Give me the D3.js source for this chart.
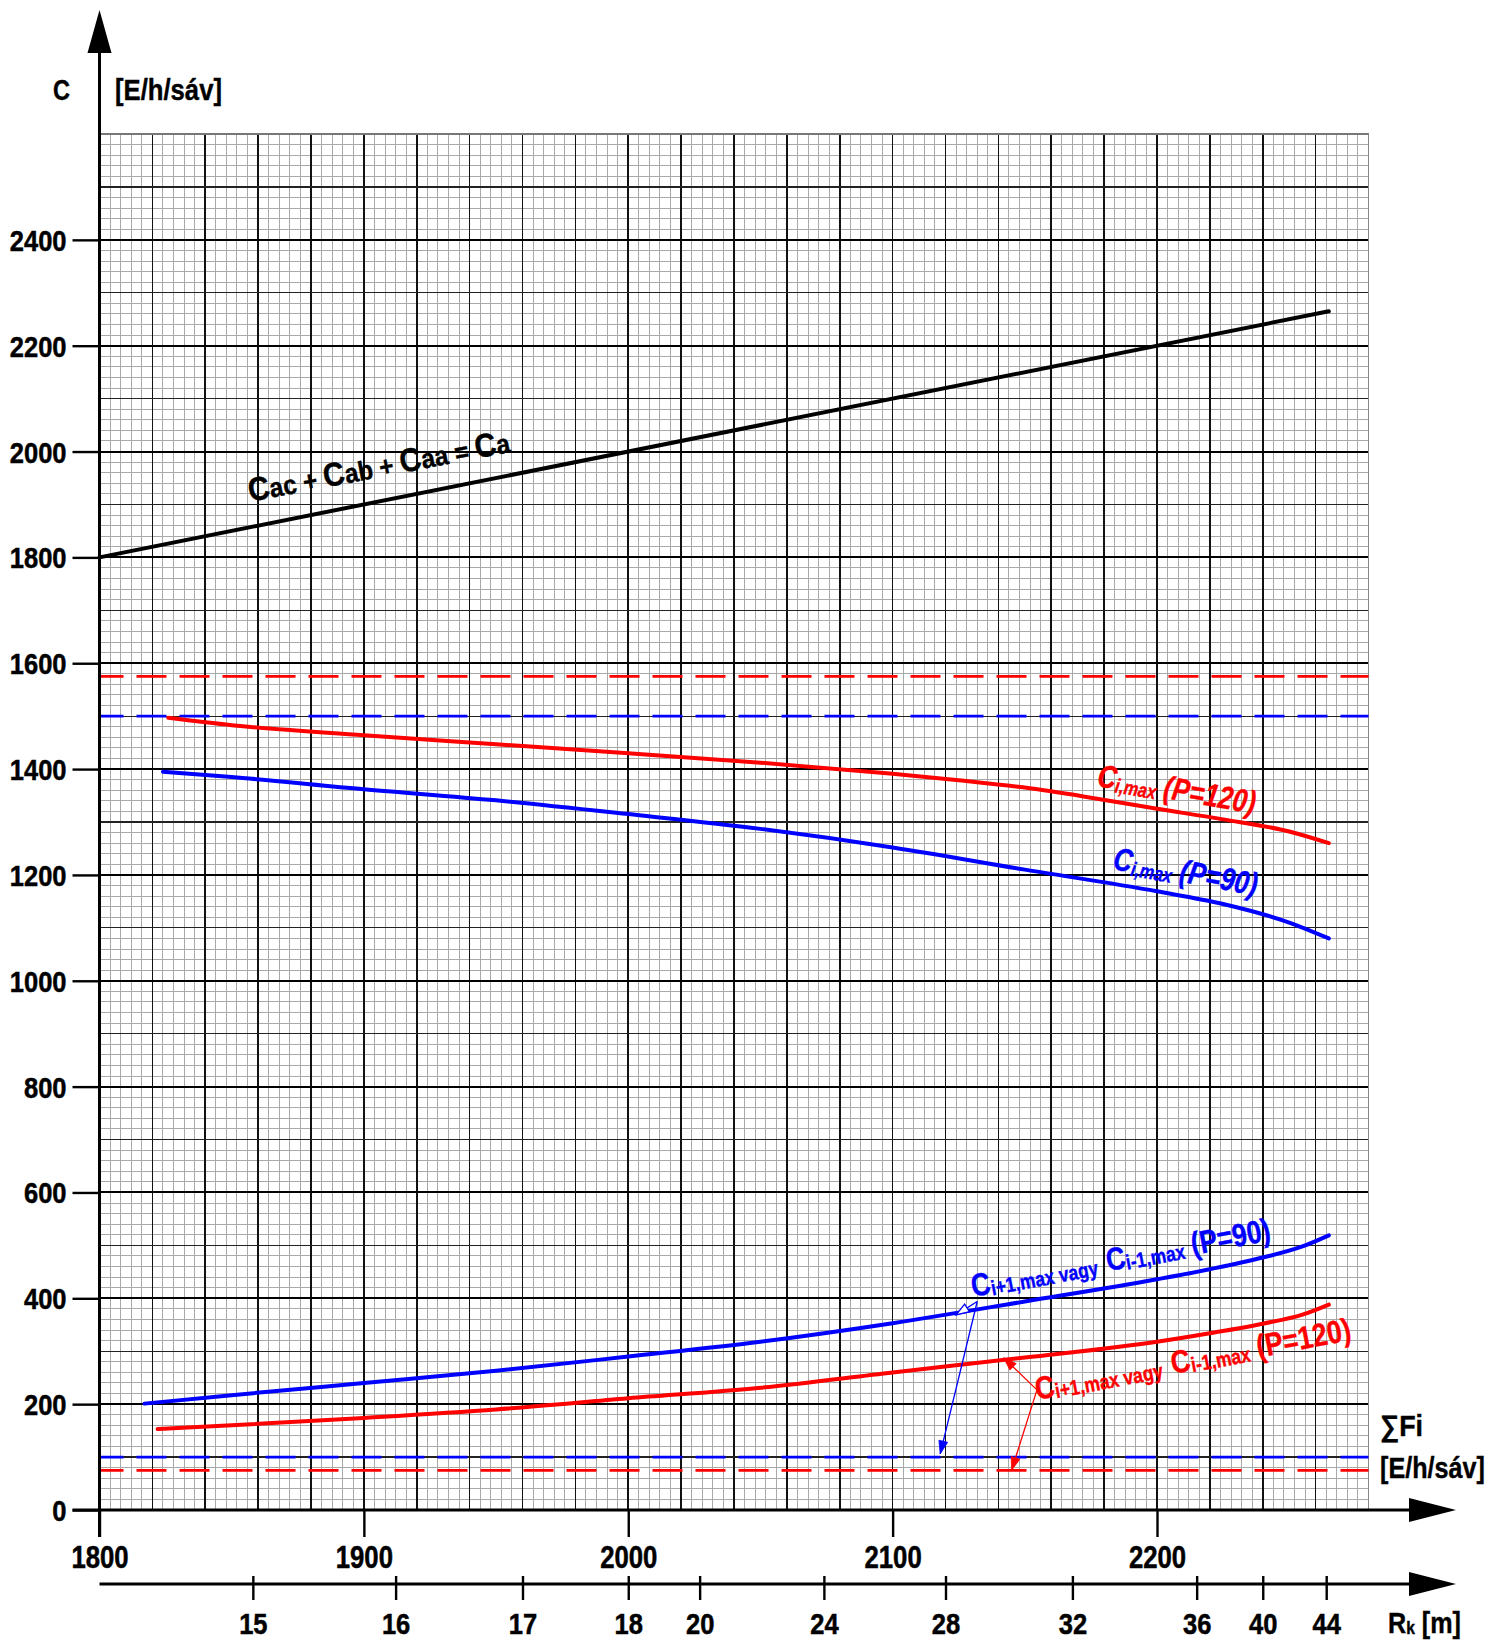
<!DOCTYPE html>
<html>
<head>
<meta charset="utf-8">
<script src="https://cdn.jsdelivr.net/npm/d3@7"></script>
<style>
body { margin: 0; background: #fff; }
svg { display: block; }
</style>
</head>
<body>
<svg id="chart" width="1500" height="1642"></svg>
<script>
// ---------------- data ----------------
// C axis ticks and sum-flow axis ticks
const yTickValues = [0, 200, 400, 600, 800, 1000, 1200, 1400, 1600, 1800, 2000, 2200, 2400];
const xTickValues = [1800, 1900, 2000, 2100, 2200];
// Rk [m] scale: radius values and the sum-flow value they sit at
const rkValues = [15, 16, 17, 18, 20, 24, 28, 32, 36, 40, 44];
const rkAtFlow = [1858, 1912, 1960, 2000, 2027, 2074, 2120, 2168, 2215, 2240, 2264];

// Cac + Cab + Caa = Ca
const caX = [1800, 2265];
const caC = [1800, 2265];
// Ci,max (P=120)
const ciMax120X = [1826, 1850, 1900, 1950, 2000, 2050, 2100, 2125, 2150, 2175, 2200, 2225, 2250, 2265];
const ciMax120C = [1497, 1483, 1464, 1447, 1430, 1412, 1391, 1379, 1365, 1346, 1325, 1305, 1282, 1260];
// Ci,max (P=90)
const ciMax90X = [1824, 1850, 1900, 1950, 2000, 2050, 2100, 2150, 2200, 2225, 2250, 2265];
const ciMax90C = [1395, 1385, 1362, 1341, 1315, 1287, 1252, 1210, 1169, 1145, 1110, 1080];
// Ci+1,max vagy Ci-1,max (P=90)
const ciAdj90X = [1817, 1850, 1900, 1950, 2000, 2050, 2100, 2150, 2200, 2220, 2240, 2255, 2265];
const ciAdj90C = [201, 217, 240, 263, 290, 318, 353, 394, 436, 455, 477, 498, 519];
// Ci+1,max vagy Ci-1,max (P=120)
const ciAdj120X = [1822, 1850, 1900, 1950, 2000, 2050, 2100, 2150, 2200, 2220, 2240, 2255, 2265];
const ciAdj120C = [153, 160, 174, 190, 211, 231, 260, 288, 318, 334, 352, 369, 388];
// dashed reference levels
const levelsRed = [1575, 75];
const levelsBlue = [1500, 100];

// ---------------- setup ----------------
const FONT = "'Liberation Sans', Arial, Helvetica, sans-serif";
const RED = "#ff0000", BLUE = "#0000ff";
const svg = d3.select("#chart");
const x = d3.scaleLinear().domain([1800, 2280]).range([99.5, 1368.5]);
const y = d3.scaleLinear().domain([0, 2600]).range([1510, 134]);
const [X0, X1] = x.range();
const [Y0, Y1] = y.range();

// ---------------- grid ----------------
const grid = svg.append("g").attr("shape-rendering", "crispEdges");
const minorX = d3.range(1800, 2280.1, 4).filter(v => (v - 1800) % 20 !== 0);
const minorY = d3.range(0, 2600.1, 20).filter(v => v % 100 !== 0);
const majorX = d3.range(1820, 2260.1, 20);
const majorY = d3.range(100, 2500.1, 100);

grid.selectAll(".mx").data(minorX).join("line")
  .attr("x1", d => x(d)).attr("x2", d => x(d)).attr("y1", Y1).attr("y2", Y0)
  .attr("stroke", "#a9a9a9").attr("stroke-width", 1);
grid.selectAll(".my").data(minorY).join("line")
  .attr("x1", X0).attr("x2", X1).attr("y1", d => y(d)).attr("y2", d => y(d))
  .attr("stroke", "#a9a9a9").attr("stroke-width", 1);
grid.selectAll(".Mx").data(majorX).join("line")
  .attr("x1", d => x(d)).attr("x2", d => x(d)).attr("y1", Y1).attr("y2", Y0)
  .attr("stroke", "#111").attr("stroke-width", 1.6);
grid.selectAll(".My").data(majorY).join("line")
  .attr("x1", X0).attr("x2", X1).attr("y1", d => y(d)).attr("y2", d => y(d))
  .attr("stroke", d => d % 200 === 0 ? "#000" : "#222")
  .attr("stroke-width", d => d % 200 === 0 ? 2 : 1.2);
// outer edges of the grid paper
grid.append("line").attr("x1", X0).attr("x2", X1).attr("y1", y(2600)).attr("y2", y(2600))
  .attr("stroke", "#777").attr("stroke-width", 1.5);
grid.append("line").attr("x1", x(2280)).attr("x2", x(2280)).attr("y1", Y1).attr("y2", Y0)
  .attr("stroke", "#888").attr("stroke-width", 1.5);

// ---------------- dashed levels ----------------
const dash = svg.append("g");
levelsRed.forEach(v => dash.append("line")
  .attr("x1", X0).attr("x2", X1).attr("y1", y(v)).attr("y2", y(v))
  .attr("stroke", RED).attr("stroke-width", 2.8).attr("stroke-dasharray", "30,13").attr("stroke-dashoffset", 6));
levelsBlue.forEach(v => dash.append("line")
  .attr("x1", X0).attr("x2", X1).attr("y1", y(v)).attr("y2", y(v))
  .attr("stroke", BLUE).attr("stroke-width", 2.8).attr("stroke-dasharray", "30,13").attr("stroke-dashoffset", 6));

// ---------------- curves ----------------
const lineGen = d3.line().x(d => x(d[0])).y(d => y(d[1])).curve(d3.curveMonotoneX);
const series = [
  { xs: caX, cs: caC, color: "#000" },
  { xs: ciMax120X, cs: ciMax120C, color: RED },
  { xs: ciMax90X, cs: ciMax90C, color: BLUE },
  { xs: ciAdj90X, cs: ciAdj90C, color: BLUE },
  { xs: ciAdj120X, cs: ciAdj120C, color: RED }
];
svg.append("g").selectAll("path").data(series).join("path")
  .attr("d", s => lineGen(s.xs.map((v, i) => [v, s.cs[i]])))
  .attr("fill", "none").attr("stroke", s => s.color).attr("stroke-width", 4)
  .attr("stroke-linecap", "round").attr("stroke-linejoin", "round");

// ---------------- rich text labels ----------------
function richLabel(parent, px, py, rot, parts, width, fill, italic) {
  const outer = parent.append("g").attr("transform", `translate(${px},${py}) rotate(${rot})`);
  const inner = outer.append("g");
  const t = inner.append("text")
    .attr("font-family", FONT).attr("font-weight", "bold")
    .attr("fill", fill).attr("stroke", fill).attr("stroke-width", 0.4)
    .style("white-space", "pre");
  if (italic) t.attr("font-style", "italic");
  let cur = 0;
  parts.forEach(p => {
    const off = p.sub || 0;
    t.append("tspan").attr("font-size", p.size).attr("dy", off - cur).text(p.t);
    cur = off;
  });
  const w = t.node().getComputedTextLength();
  inner.attr("transform", `scale(${width / w},1)`);
  return outer;
}
const labels = svg.append("g");

// curve labels (anchored in chart units)
richLabel(labels, x(1857), y(1905), -10.8, [
  { t: "C", size: 33 }, { t: "ac", size: 27 }, { t: " + ", size: 27 },
  { t: "C", size: 33 }, { t: "ab", size: 27 }, { t: " + ", size: 27 },
  { t: "C", size: 33 }, { t: "aa", size: 27 }, { t: " = ", size: 27 },
  { t: "C", size: 33 }, { t: "a", size: 27 }
], 266, "#000", false);

richLabel(labels, x(2177), y(1368), 10, [
  { t: "C", size: 32 }, { t: "i,max", size: 20, sub: 3 }, { t: " (P=120)", size: 32 }
], 160, RED, true);

richLabel(labels, x(2183), y(1211), 10.5, [
  { t: "C", size: 32 }, { t: "i,max", size: 20, sub: 3 }, { t: " (P=90)", size: 32 }
], 146, BLUE, true);

richLabel(labels, x(2130.5), y(402.5), -10.8, [
  { t: "C", size: 32 }, { t: "i+1,max vagy  ", size: 21, sub: 2 },
  { t: "C", size: 32 }, { t: "i-1,max", size: 21, sub: 2 }, { t: " (P=90)", size: 32 }
], 304, BLUE, false);

richLabel(labels, x(2154.7), y(208), -10.8, [
  { t: "C", size: 32 }, { t: "i+1,max vagy  ", size: 21, sub: 2 },
  { t: "C", size: 32 }, { t: "i-1,max", size: 21, sub: 2 }, { t: " (P=120)", size: 32 }
], 321, RED, false);

// ---------------- annotation arrows ----------------
const ann = svg.append("g");
function arrowHead(x1, y1, x2, y2, len, half, color, open) {
  const a = Math.atan2(y2 - y1, x2 - x1);
  const bx = x2 - len * Math.cos(a), by = y2 - len * Math.sin(a);
  const nx = -Math.sin(a) * half, ny = Math.cos(a) * half;
  ann.append("path")
    .attr("d", `M${x2},${y2}L${bx + nx},${by + ny}L${bx - nx},${by - ny}Z`)
    .attr("fill", open ? "#fff" : color).attr("stroke", color).attr("stroke-width", open ? 1.3 : 0.8);
}
function annotate(origin, targets, color) {
  targets.forEach(tg => {
    const x1 = x(origin[0]), y1 = y(origin[1]), x2 = x(tg.at[0]), y2 = y(tg.at[1]);
    ann.append("line").attr("x1", x1).attr("y1", y1).attr("x2", x2).attr("y2", y2)
      .attr("stroke", color).attr("stroke-width", 1.3);
    arrowHead(x1, y1, x2, y2, 13, 4.5, color, tg.open);
  });
}
const adj90 = d3.scaleLinear().domain(ciAdj90X).range(ciAdj90C);
const adj120 = d3.scaleLinear().domain(ciAdj120X).range(ciAdj120C);
annotate([2132, 394], [{ at: [2124, adj90(2124) - 4], open: true }, { at: [2118, levelsBlue[1] + 6] }], BLUE);
annotate([2154.6, 227], [{ at: [2142, adj120(2142) + 4] }, { at: [2145, levelsRed[1]] }], RED);

// ---------------- axes ----------------
const axes = svg.append("g");
function styleTicks(sel, size, sx, txtTransform) {
  sel.select(".domain").remove();
  sel.selectAll(".tick line").attr("stroke", "#000").attr("stroke-width", 2.4);
  sel.selectAll(".tick text")
    .attr("font-family", FONT).attr("font-weight", "bold").attr("font-size", size)
    .attr("fill", "#000").attr("stroke", "#000").attr("stroke-width", 0.5)
    .attr("x", null).attr("y", null).attr("dy", null)
    .attr("transform", txtTransform + ` scale(${sx},1)`);
}
// C axis
const gy = axes.append("g").attr("transform", `translate(${X0},0)`)
  .call(d3.axisLeft(y).tickValues(yTickValues).tickSize(27).tickFormat(d3.format("d")));
styleTicks(gy, 30, 0.85, "translate(-33,10.5)");
gy.selectAll(".tick text").attr("text-anchor", "end");
// sum-flow axis
const gx = axes.append("g").attr("transform", `translate(0,${Y0})`)
  .call(d3.axisBottom(x).tickValues(xTickValues).tickSize(27).tickFormat(d3.format("d")));
styleTicks(gx, 31, 0.83, "translate(0,58)");
gx.selectAll(".tick text").attr("text-anchor", "middle");
// Rk axis
const RK_Y = 1584;
const rk = d3.scaleLinear().domain(rkValues).range(rkAtFlow.map(v => x(v)));
const gr = axes.append("g").attr("transform", `translate(0,${RK_Y})`)
  .call(d3.axisBottom(rk).tickValues(rkValues).tickSize(16).tickFormat(d3.format("d")));
styleTicks(gr, 29, 0.88, "translate(0,50)");
gr.selectAll(".tick line").attr("y1", -8);
gr.selectAll(".tick text").attr("text-anchor", "middle");

// axis lines and arrows
axes.append("line").attr("x1", X0).attr("x2", X0).attr("y1", 40).attr("y2", Y0 + 27)
  .attr("stroke", "#000").attr("stroke-width", 3);
axes.append("path").attr("d", `M${X0},10L${X0 - 12},53L${X0 + 12},53Z`).attr("fill", "#000");
axes.append("line").attr("x1", X0 - 27).attr("x2", 1420).attr("y1", Y0).attr("y2", Y0)
  .attr("stroke", "#000").attr("stroke-width", 3);
axes.append("path").attr("d", `M1456,${Y0}L1409,${Y0 - 12}L1409,${Y0 + 12}Z`).attr("fill", "#000");
axes.append("line").attr("x1", X0).attr("x2", 1420).attr("y1", RK_Y).attr("y2", RK_Y)
  .attr("stroke", "#000").attr("stroke-width", 3);
axes.append("path").attr("d", `M1456,${RK_Y}L1409,${RK_Y - 12}L1409,${RK_Y + 12}Z`).attr("fill", "#000");

// axis titles
richLabel(labels, 53, 100, 0, [{ t: "C", size: 30 }], 17, "#000", false);
richLabel(labels, 115, 100, 0, [{ t: "[E/h/sáv]", size: 30 }], 107, "#000", false);
richLabel(labels, 1380, 1436, 0, [{ t: "∑", size: 30 }, { t: "Fi", size: 30 }], 43, "#000", false);
richLabel(labels, 1380, 1478, 0, [{ t: "[E/h/sáv]", size: 30 }], 105, "#000", false);
richLabel(labels, 1388, 1633, 0, [{ t: "R", size: 29 }, { t: "k", size: 18, sub: 1 }, { t: " [m]", size: 29 }], 73, "#000", false);
</script>
</body>
</html>
